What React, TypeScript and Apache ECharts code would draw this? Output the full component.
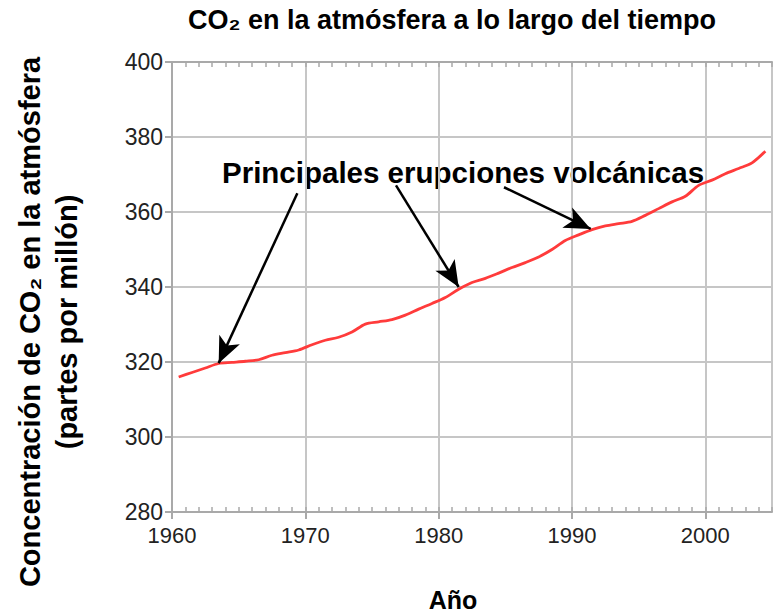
import React, { useEffect, useRef } from "react";
import * as echarts from "echarts";

const years = [
  1960, 1961, 1962, 1963, 1964, 1965, 1966, 1967, 1968, 1969,
  1970, 1971, 1972, 1973, 1974, 1975, 1976, 1977, 1978, 1979,
  1980, 1981, 1982, 1983, 1984, 1985, 1986, 1987, 1988, 1989,
  1990, 1991, 1992, 1993, 1994, 1995, 1996, 1997, 1998, 1999,
  2000, 2001, 2002, 2003, 2004,
];
const co2 = [
  316.0, 317.2, 318.4, 319.6, 319.9, 320.2, 320.6, 321.8, 322.5, 323.2,
  324.6, 325.8, 326.6, 328.0, 330.1, 330.7, 331.3, 332.5, 334.1, 335.6,
  337.2, 339.4, 341.2, 342.3, 343.7, 345.2, 346.5, 348.0, 350.0, 352.4,
  353.9, 355.3, 356.3, 356.9, 357.5, 359.1, 360.9, 362.7, 364.2, 367.1,
  368.5, 370.2, 371.6, 373.1, 376.2,
];
// arrows: [tail(year, ppm), head(year, ppm)]
const arrowTails = [[1969.4, 365.0], [1976.8, 367.1], [1984.9, 366.6]];
const arrowHeads = [[1963.5, 319.7], [1981.5, 340.0], [1991.4, 355.5]];

const title = "CO₂ en la atmósfera a lo largo del tiempo";
const yName = "Concentración de CO₂ en la atmósfera\n(partes por millón)";
const xName = "Año";
const annotation = "Principales erupciones volcánicas";

const FONT = "'Liberation Sans', Arial, 'DejaVu Sans', sans-serif";
const GRID = "#c6c6c6";
const AXIS = "#a9a9a9";

export default function App() {
  const ref = useRef<HTMLDivElement>(null);
  useEffect(() => {
    if (!ref.current) return;
    const chart = echarts.init(ref.current, undefined, { renderer: "svg" });
    const grid = { left: 172, right: 4, top: 62, bottom: 103 };
    chart.setOption({
      animation: false,
      backgroundColor: "#fff",
      grid,
      xAxis: [
        {
          type: "value", min: 1960, max: 2005, interval: 10, position: "bottom",
          axisLine: { show: true, lineStyle: { color: AXIS, width: 2 } },
          axisTick: { show: true, length: 7, lineStyle: { color: AXIS, width: 2 } },
          axisLabel: {
            show: true, showMaxLabel: false, color: "#222", fontSize: 22, fontFamily: FONT, margin: 12,
            formatter: (v: number) => String(v),
          },
          splitLine: { show: true, lineStyle: { color: GRID, width: 2 } },
        },
        {
          type: "value", min: 1960, max: 2005, interval: 1, position: "bottom",
          axisLine: { show: false },
          axisTick: { show: true, inside: true, length: 5, lineStyle: { color: AXIS, width: 1.5 } },
          axisLabel: { show: false },
          splitLine: { show: false },
        },
        {
          type: "value", min: 1960, max: 2005, interval: 1, position: "top",
          axisLine: { show: true, lineStyle: { color: AXIS, width: 2 } },
          axisTick: { show: true, inside: true, length: 5, lineStyle: { color: AXIS, width: 1.5 } },
          axisLabel: { show: false },
          splitLine: { show: false },
        },
      ],
      yAxis: {
        type: "value", min: 280, max: 400, interval: 20,
        axisLine: { show: true, lineStyle: { color: AXIS, width: 2 } },
        axisTick: { show: true, length: 7, lineStyle: { color: AXIS, width: 2 } },
        axisLabel: { color: "#222", fontSize: 23, fontFamily: FONT, margin: 9 },
        splitLine: { show: true, lineStyle: { color: GRID, width: 2 } },
      },
      graphic: [
        {
          type: "text", x: 452, y: 20,
          style: { text: title, font: `bold 27px ${FONT}`, fill: "#000", align: "center", verticalAlign: "middle" },
        },
        {
          type: "text", x: 453, y: 600,
          style: { text: xName, font: `bold 25px ${FONT}`, fill: "#000", align: "center", verticalAlign: "middle" },
        },
        {
          type: "text", x: 48, y: 322, rotation: Math.PI / 2,
          style: { text: yName, font: `bold 29px ${FONT}`, lineHeight: 37, fill: "#000", align: "center", verticalAlign: "middle" },
        },
        {
          type: "text", x: 222, y: 172,
          style: { text: annotation, font: `bold 29.5px ${FONT}`, fill: "#000", align: "left", verticalAlign: "middle" },
        },
      ],
      series: [
        {
          type: "line",
          xAxisIndex: 0,
          data: years.map((y, i) => [y + 0.5, co2[i]]),
          showSymbol: false,
          smooth: 0.3,
          lineStyle: { color: "#ff3b3b", width: 2.8 },
          itemStyle: { color: "#ff3b3b" },
          markLine: {
            silent: true,
            symbol: ["none", "arrow"],
            symbolSize: [17, 26],
            label: { show: false },
            lineStyle: { color: "#000", width: 2.5, type: "solid" },
            itemStyle: { color: "#000" },
            data: arrowTails.map((t, i) => [{ coord: t }, { coord: arrowHeads[i] }]),
          },
        },
      ],
    });
    return () => chart.dispose();
  }, []);
  return <div ref={ref} style={{ width: 776, height: 615, position: "absolute", left: 0, top: 0 }} />;
}
